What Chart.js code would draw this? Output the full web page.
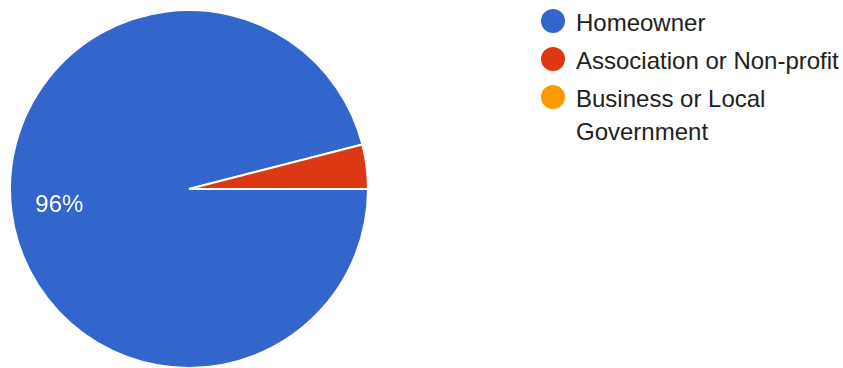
<!DOCTYPE html>
<html>
<head>
<meta charset="utf-8">
<script src="https://cdn.jsdelivr.net/npm/chart.js@4"></script>
<style>
  body { margin: 0; background: #fff; font-family: "Liberation Sans", Arial, sans-serif; }
  #wrap { position: relative; width: 843px; height: 368px; overflow: hidden; }
  #pieBox { position: absolute; left: 9px; top: 9px; width: 360px; height: 360px; }
  #legend { position: absolute; left: 541px; top: 6px; width: 300px; margin: 0; padding: 0; list-style: none; }
  #legend li { position: relative; padding-left: 35px; margin-bottom: 5px; font-size: 24px; line-height: 33px; color: #212121; }
  #legend .dot { position: absolute; left: 0; top: 3px; width: 24px; height: 24px; border-radius: 50%; }
</style>
</head>
<body>
<div id="wrap">
  <div id="pieBox"><canvas id="pie"></canvas></div>
  <ul id="legend"></ul>
</div>
<script>
const labels = ["Homeowner", "Association or Non-profit", "Business or Local Government"];
const legendLines = [["Homeowner"], ["Association or Non-profit"], ["Business or Local", "Government"]];
const counts = [24, 1, 0];
const colors = ["#3366cc", "#dc3912", "#ff9900"];

// legend on the right, one row per category
const legend = document.getElementById("legend");
labels.forEach((label, i) => {
  const li = document.createElement("li");
  const dot = document.createElement("span");
  dot.className = "dot";
  dot.style.background = colors[i];
  li.appendChild(dot);
  legendLines[i].forEach((line, j) => {
    if (j > 0) li.appendChild(document.createElement("br"));
    li.appendChild(document.createTextNode(line));
  });
  legend.appendChild(li);
});

// percentage text inside slices that are big enough
const sliceLabels = {
  id: "sliceLabels",
  afterDatasetsDraw(chart) {
    const ctx = chart.ctx;
    const data = chart.data.datasets[0].data;
    const total = data.reduce((a, b) => a + b, 0);
    chart.getDatasetMeta(0).data.forEach((arc, i) => {
      const pct = data[i] / total;
      if (pct < 0.05) return;
      const mid = (arc.startAngle + arc.endAngle) / 2;
      const r = arc.outerRadius * 0.73;
      ctx.save();
      ctx.fillStyle = "#fff";
      ctx.font = "24px 'Liberation Sans', Arial, sans-serif";
      ctx.textAlign = "center";
      ctx.textBaseline = "middle";
      ctx.fillText(Math.round(pct * 100) + "%", arc.x + Math.cos(mid) * r, arc.y + Math.sin(mid) * r);
      ctx.restore();
    });
  }
};

new Chart(document.getElementById("pie"), {
  type: "pie",
  data: {
    labels: labels,
    datasets: [{
      data: counts,
      backgroundColor: colors,
      borderColor: "#fff",
      borderWidth: 2
    }]
  },
  options: {
    responsive: true,
    maintainAspectRatio: false,
    animation: false,
    rotation: 90,
    layout: { padding: 0 },
    plugins: {
      legend: { display: false },
      tooltip: { enabled: false }
    }
  },
  plugins: [sliceLabels]
});
</script>
</body>
</html>
